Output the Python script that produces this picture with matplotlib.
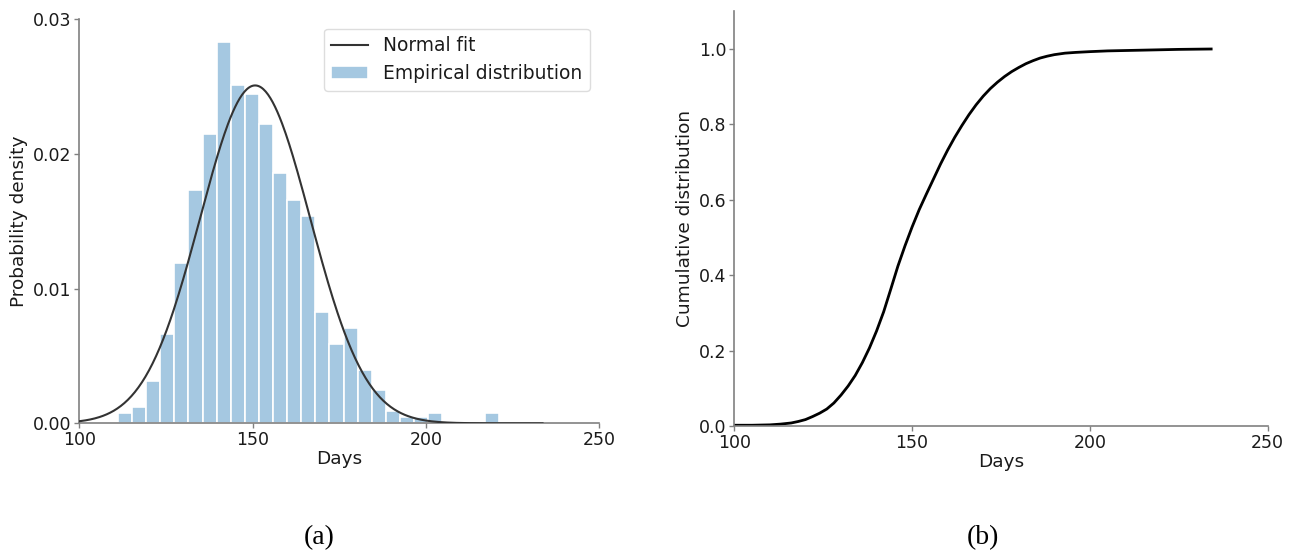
#!/usr/bin/env python3
"""Duration distribution: histogram with normal fit (a) and cumulative curve (b)."""

import matplotlib.pyplot as plt
import numpy as np

# Histogram of durations (density per bin), bins of equal width
bin_start = 111.1
bin_width = 4.07
density = [0.00074, 0.00123, 0.00316, 0.00662, 0.0119, 0.01733, 0.02148,
           0.02832, 0.02514, 0.02444, 0.02225, 0.01857, 0.01659, 0.01538,
           0.00827, 0.00588, 0.00709, 0.00395, 0.00247, 0.00094, 0.00049,
           0.00049, 0.00074, 0.0, 0.0, 0.0, 0.00074]

# Fitted normal parameters
fit_mu = 150.7
fit_sigma = 15.9
fit_range = (98.0, 233.6)

# Cumulative distribution
cdf_days = [100, 105, 110, 113, 116, 118, 120, 122, 124, 126, 128, 130,
            132, 134, 136, 138, 140, 142, 144, 146, 148, 150, 152, 154,
            156, 158, 160, 162, 164, 166, 168, 170, 172, 174, 176, 178,
            180, 182, 184, 186, 188, 190, 193, 196, 200, 205, 210, 215,
            220, 225, 234.1]
cdf_vals = [0.002, 0.002, 0.003, 0.005, 0.008, 0.012, 0.017, 0.025, 0.034,
            0.045, 0.061, 0.082, 0.106, 0.134, 0.168, 0.207, 0.252, 0.303,
            0.363, 0.424, 0.478, 0.528, 0.574, 0.615, 0.655, 0.695, 0.732,
            0.766, 0.797, 0.826, 0.852, 0.875, 0.895, 0.912, 0.927, 0.940,
            0.951, 0.961, 0.969, 0.976, 0.981, 0.985, 0.989, 0.991, 0.993,
            0.995, 0.996, 0.997, 0.998, 0.999, 1.0]

x_ticks = [100, 150, 200, 250]

SPINE = "#808080"
TEXT = "#1a1a1a"
FS = 12.5
LABEL_FS = 13.3

plt.rcParams["font.family"] = "DejaVu Sans"
plt.rcParams["text.color"] = TEXT
plt.rcParams["axes.labelcolor"] = TEXT
plt.rcParams["xtick.color"] = TEXT
plt.rcParams["ytick.color"] = TEXT


def style(ax):
    for side in ("top", "right"):
        ax.spines[side].set_visible(False)
    for side in ("left", "bottom"):
        ax.spines[side].set_color(SPINE)
        ax.spines[side].set_linewidth(1.2)
    ax.tick_params(labelsize=FS, color=SPINE, length=3.5, width=1.0, pad=2)


fig = plt.figure(figsize=(12.99, 5.57), dpi=100)

# (a) histogram + normal fit
ax = fig.add_axes([0.0611, 0.240, 0.4003, 0.7253])
edges = bin_start + bin_width * np.arange(len(density))
xs = np.linspace(fit_range[0], fit_range[1], 400)
pdf = np.exp(-0.5 * ((xs - fit_mu) / fit_sigma) ** 2) / (fit_sigma * np.sqrt(2 * np.pi))
ax.plot(xs, pdf, color="#333333", linewidth=1.5, label="Normal fit", zorder=3)
ax.bar(edges, density, width=bin_width, align="edge", color="#a5c8e1",
       edgecolor="white", linewidth=1.2, label="Empirical distribution")
ax.set_xlim(100, 250)
ax.set_ylim(0, 0.03)
ax.set_xticks(x_ticks)
ax.set_yticks([0.0, 0.01, 0.02, 0.03])
ax.set_yticklabels(["0.00", "0.01", "0.02", "0.03"])
ax.set_xlabel("Days", fontsize=LABEL_FS, labelpad=1)
ax.set_ylabel("Probability density", fontsize=LABEL_FS, labelpad=4)
style(ax)
ax.legend(loc="upper right", fontsize=13.4, framealpha=1.0, edgecolor="#dddddd")

# (b) cumulative distribution
ax = fig.add_axes([0.5653, 0.2352, 0.4106, 0.7445])
ax.plot(cdf_days, cdf_vals, color="black", linewidth=2.0)
ax.set_xlim(100, 250)
ax.set_ylim(0, 1.1)
ax.set_xticks(x_ticks)
ax.set_yticks([0.0, 0.2, 0.4, 0.6, 0.8, 1.0])
ax.set_xlabel("Days", fontsize=LABEL_FS, labelpad=1)
ax.set_ylabel("Cumulative distribution", fontsize=LABEL_FS, labelpad=4)
style(ax)

fig.text(0.2461, 0.0341, "(a)", family="Liberation Serif", fontsize=20,
         ha="center", va="center", color="black")
fig.text(0.7564, 0.0341, "(b)", family="Liberation Serif", fontsize=20,
         ha="center", va="center", color="black")

fig.savefig("out.png", dpi=100)
